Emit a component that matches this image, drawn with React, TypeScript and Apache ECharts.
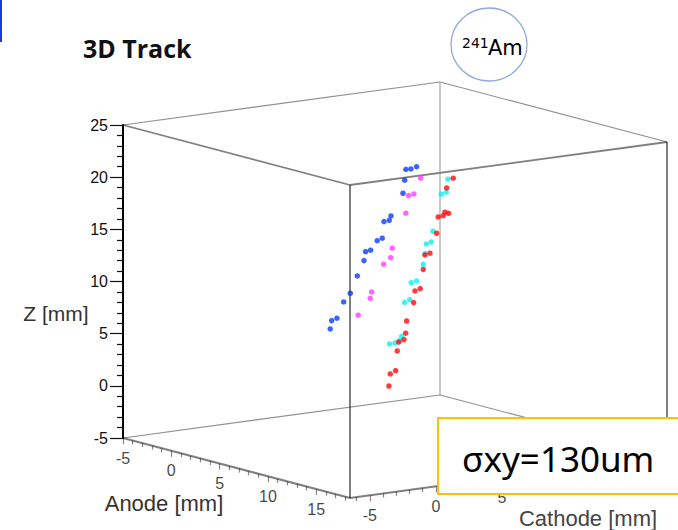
import React, { useEffect, useRef } from "react";
import * as echarts from "echarts";

// ---- texts ----
const TITLE = "3D Track";
const Z_NAME = "Z [mm]";
const ANODE_NAME = "Anode [mm]";
const CATHODE_NAME = "Cathode [mm]";
const SIGMA_TEXT = "σxy=130um";
const ISOTOPE_MASS = "241";
const ISOTOPE = "Am";

// ---- axis ranges & ticks ----
const ANODE_RANGE = [-5, 18.5];
const CATHODE_RANGE = [-6.5, 17.5];
const Z_RANGE = [-5, 25];
const ANODE_TICKS = [-5, 0, 5, 10, 15];
const CATHODE_TICKS = [-5, 0, 5];

// ---- data (anode, cathode, z in mm) ----
const blueAnode = 0;
const blueCathode = [11.26, 11.64, 12.07, 11.17, 11.04, 10.13, 10.0, 9.6, 9.47, 9.09, 8.59, 8.21, 8.09, 7.58, 7.05, 6.55, 6.04, 5.64, 5.53];
const blueZ = [18.93, 18.9, 19.04, 17.9, 16.67, 14.65, 14.26, 14.2, 12.63, 12.46, 11.63, 11.56, 10.72, 9.34, 7.77, 7.02, 5.55, 5.39, 4.61];

const magentaAnode = 0;
const magentaCathode = [12.38, 11.87, 11.47, 11.26, 10.23, 10.11, 9.58, 8.67, 8.56, 7.65];
const magentaZ = [17.88, 16.46, 16.37, 14.72, 11.54, 10.66, 10.12, 7.62, 7.03, 5.56];

const cyanAnode = 5;
const cyanCathode = [10.79, 10.66, 10.28, 9.65, 9.52, 9.15, 9.05, 8.92, 8.42, 8.01, 7.89, 7.51, 7.28, 7.15, 6.78, 6.37];
const cyanZ = [19.28, 18.06, 17.93, 14.49, 13.49, 13.36, 12.45, 11.45, 9.94, 9.85, 8.24, 8.05, 4.83, 4.43, 4.28, 4.25];

const redAnode = 5;
const redCathode = [11.19, 10.69, 10.56, 10.84, 10.43, 10.05, 9.93, 9.43, 9.05, 8.92, 8.69, 8.29, 8.19, 7.66, 7.59, 7.46, 7.06, 6.95, 6.83, 6.42, 6.32];
const redZ = [19.31, 18.46, 16.16, 16.01, 15.85, 15.79, 14.25, 12.42, 12.32, 10.95, 9.15, 9.0, 7.9, 6.23, 5.07, 4.48, 4.32, 3.48, 1.61, 1.37, 0.23];

// ---- layout / projection (pixels) ----
const GRID_LEFT = 123;
const GRID_TOP = 125;
const Z_HEIGHT_PX = 313;
const ANODE_VEC = [227, 60];
const CATHODE_VEC = [317, -43];
const GRID_WIDTH = ANODE_VEC[0] + CATHODE_VEC[0];

const zPerPx = (Z_RANGE[1] - Z_RANGE[0]) / Z_HEIGHT_PX;

function project(a: number, c: number, z: number): number[] {
  const fa = (a - ANODE_RANGE[0]) / (ANODE_RANGE[1] - ANODE_RANGE[0]);
  const fc = (c - CATHODE_RANGE[0]) / (CATHODE_RANGE[1] - CATHODE_RANGE[0]);
  const x = fa * ANODE_VEC[0] + fc * CATHODE_VEC[0];
  const dy = fa * ANODE_VEC[1] + fc * CATHODE_VEC[1];
  return [x, z - dy * zPerPx];
}
function shiftDown(p: number[], px: number): number[] {
  return [p[0], p[1] - px * zPerPx];
}

export default function App() {
  const ref = useRef<HTMLDivElement>(null);
  useEffect(() => {
    if (!ref.current) return;
    const chart = echarts.init(ref.current, null, { renderer: "svg" });
    const [A0, A1] = ANODE_RANGE;
    const [C0, C1] = CATHODE_RANGE;
    const [Z0, Z1] = Z_RANGE;

    const strong = { color: "#000", width: 2 };
    const thin = { color: "#222", width: 1.2 };
    const back = { color: "#888", width: 1.8 };
    const edges = [
      { p: [[A1, C0, Z0], [A1, C0, Z1]], s: strong },
      { p: [[A1, C1, Z0], [A1, C1, Z1]], s: strong },
      { p: [[A0, C0, Z1], [A1, C0, Z1]], s: { color: "#000", width: 1.8 } },
      { p: [[A1, C0, Z1], [A1, C1, Z1]], s: { color: "#000", width: 1.8 } },
      { p: [[A0, C0, Z0], [A1, C0, Z0]], s: strong },
      { p: [[A1, C0, Z0], [A1, C1, Z0]], s: strong },
      { p: [[A0, C0, Z1], [A0, C1, Z1]], s: thin },
      { p: [[A0, C1, Z1], [A1, C1, Z1]], s: thin },
      { p: [[A0, C0, Z0], [A0, C1, Z0]], s: thin },
      { p: [[A0, C1, Z0], [A1, C1, Z0]], s: thin },
      { p: [[A0, C1, Z0], [A0, C1, Z1]], s: back },
    ].map((e) => ({
      coords: e.p.map((q) => project(q[0], q[1], q[2])),
      lineStyle: e.s,
    }));

    const ticks: any[] = [];
    for (let v = Math.ceil(A0); v <= A1; v++) {
      const p = project(v, C0, Z0);
      ticks.push({ coords: [p, shiftDown(p, v % 5 === 0 ? 6 : 4)] });
    }
    for (let v = Math.ceil(C0); v <= C1; v++) {
      const p = project(A1, v, Z0);
      ticks.push({ coords: [p, shiftDown(p, v % 5 === 0 ? 6 : 4)] });
    }

    const tickLabels = [
      ...ANODE_TICKS.map((v) => [...shiftDown(project(v, C0, Z0), 20), v]),
      ...CATHODE_TICKS.map((v) => [...shiftDown(project(A1, v, Z0), 20), v]),
    ];

    const pts = (a: number, cs: number[], zs: number[]) => cs.map((c, i) => project(a, c, zs[i]));
    const pointSeries = (name: string, color: string, data: number[][]) => ({
      name,
      type: "scatter",
      data,
      symbol: "circle",
      symbolSize: 5.5,
      itemStyle: { color },
      clip: false,
      silent: true,
      z: 10,
    });

    const font = "Liberation Sans, Arial, sans-serif";

    chart.setOption({
      animation: false,
      backgroundColor: "#fff",
      grid: { left: GRID_LEFT, top: GRID_TOP, width: GRID_WIDTH, height: Z_HEIGHT_PX, containLabel: false },
      xAxis: { type: "value", min: 0, max: GRID_WIDTH, show: false },
      yAxis: {
        type: "value",
        min: Z0,
        max: Z1,
        interval: 5,
        position: "left",
        axisLine: { show: true, lineStyle: { color: "#000", width: 2 } },
        axisTick: { show: true, length: 13, lineStyle: { color: "#111", width: 1.2 } },
        minorTick: { show: true, splitNumber: 5, length: 6, lineStyle: { color: "#111", width: 1.2 } },
        axisLabel: { fontSize: 16, color: "#111", margin: 15, fontFamily: font },
        splitLine: { show: false },
        minorSplitLine: { show: false },
      },
      series: [
        {
          type: "lines",
          coordinateSystem: "cartesian2d",
          data: edges,
          silent: true,
          clip: false,
          z: 3,
        },
        {
          type: "lines",
          coordinateSystem: "cartesian2d",
          data: ticks,
          lineStyle: { color: "#111", width: 1.2 },
          silent: true,
          clip: false,
          z: 3,
        },
        {
          type: "scatter",
          data: tickLabels,
          symbolSize: 1,
          itemStyle: { color: "rgba(0,0,0,0)" },
          clip: false,
          silent: true,
          label: {
            show: true,
            position: "inside",
            formatter: (p: any) => String(p.value[2]),
            fontSize: 16,
            color: "#111",
            fontFamily: font,
          },
          z: 4,
        },
        pointSeries("blue", "#0a3cff", pts(blueAnode, blueCathode, blueZ)),
        pointSeries("magenta", "#ff3cff", pts(magentaAnode, magentaCathode, magentaZ)),
        pointSeries("cyan", "#10f0f0", pts(cyanAnode, cyanCathode, cyanZ)),
        pointSeries("red", "#ff0a0a", pts(redAnode, redCathode, redZ)),
      ],
      graphic: [
        { type: "rect", shape: { x: 0, y: 0, width: 2, height: 42 }, style: { fill: "#1a3ae0" }, z: 50 },
        {
          type: "text",
          x: 83,
          y: 48,
          style: { text: TITLE, fill: "#111", font: "bold 25px 'Open Sans', 'Noto Sans', sans-serif", align: "left", verticalAlign: "middle" },
          z: 50,
        },
        {
          type: "ellipse",
          shape: { cx: 489, cy: 44.5, rx: 38, ry: 36.5 },
          style: { fill: "rgba(0,0,0,0)", stroke: "#8eaadb", lineWidth: 1.3 },
          z: 50,
        },
        {
          type: "text",
          x: 462,
          y: 43,
          style: { text: ISOTOPE_MASS, fill: "#000", font: "14px 'DejaVu Sans', sans-serif", align: "left", verticalAlign: "middle" },
          z: 51,
        },
        {
          type: "text",
          x: 488,
          y: 48,
          style: { text: ISOTOPE, fill: "#000", font: "21px 'DejaVu Sans', sans-serif", align: "left", verticalAlign: "middle" },
          z: 51,
        },
        {
          type: "text",
          x: 56,
          y: 313,
          style: { text: Z_NAME, fill: "#333", font: "21px 'Liberation Sans', Arial, sans-serif", align: "center", verticalAlign: "middle" },
          z: 50,
        },
        {
          type: "text",
          x: 164,
          y: 503,
          style: { text: ANODE_NAME, fill: "#333", font: "22px 'Liberation Sans', Arial, sans-serif", align: "center", verticalAlign: "middle" },
          z: 50,
        },
        {
          type: "text",
          x: 588,
          y: 518,
          style: { text: CATHODE_NAME, fill: "#444", font: "22px 'Liberation Sans', Arial, sans-serif", align: "center", verticalAlign: "middle" },
          z: 50,
        },
        {
          type: "rect",
          shape: { x: 438, y: 418, width: 250, height: 76 },
          style: { fill: "#fff", stroke: "#ffc000", lineWidth: 2 },
          z: 100,
        },
        {
          type: "text",
          x: 462,
          y: 458,
          style: { text: SIGMA_TEXT, fill: "#000", font: "35px 'Noto Sans', 'Open Sans', sans-serif", align: "left", verticalAlign: "middle" },
          z: 101,
        },
      ],
    });
    return () => chart.dispose();
  }, []);
  return <div ref={ref} style={{ position: "fixed", left: 0, top: 0, width: 678, height: 530 }} />;
}
